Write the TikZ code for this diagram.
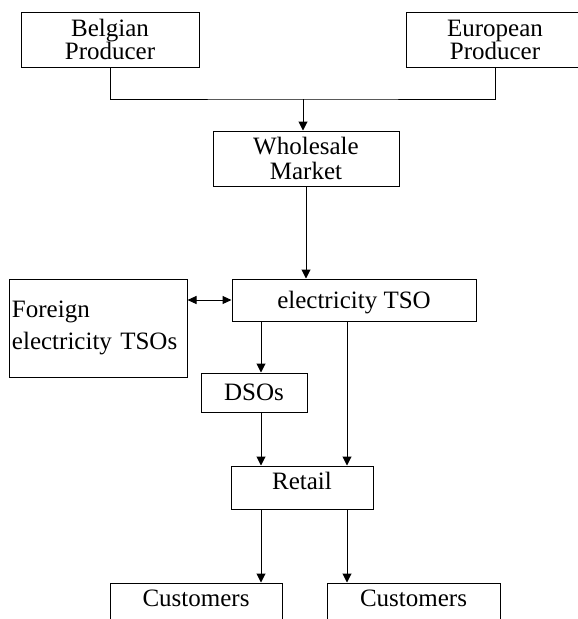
\documentclass[tikz,border=0pt]{standalone}
\usepackage{fontspec}
\setmainfont{Liberation Serif}
\usetikzlibrary{arrows.meta, positioning}

\begin{document}
\begin{tikzpicture}[
    x=1pt, y=-1pt,
    line width=1pt,
    box/.style={rectangle, draw, inner sep=0pt, align=center, font=\fontsize{25}{25}\selectfont},
    arr/.style={-{Triangle[length=9pt, width=9pt]}},
    twoarr/.style={{Triangle[length=9pt, width=8pt]}-{Triangle[length=9pt, width=8pt]}}
]
    \useasboundingbox (0,0) rectangle (578,619);

    % Producers and market
    \node[box, minimum width=178, minimum height=55, font=\fontsize{25}{23}\selectfont] (belg) at (110,39.5) {Belgian\\Producer};
    \node[box, minimum width=178, minimum height=55, font=\fontsize{25}{23}\selectfont] (euro) at (495,39.5) {European\\Producer};
    \node[box, minimum width=186, minimum height=55] (whole) at (306,158.5) {Wholesale\\Market};

    % Transmission
    \node[box, minimum width=244, minimum height=42, text depth=0pt] (tso) at (354,300) {electricity TSO};
    \node[box, minimum width=178, minimum height=98, align=left, text width=172pt, inner xsep=3pt,
          font=\fontsize{25}{32}\selectfont] (foreign) at (98,328) {Foreign\\electricity TSOs};

    % Distribution and retail
    \node[box, minimum width=106, minimum height=39] (dso) at (254,392.5) {DSOs};
    \node[box, minimum width=142, minimum height=43, text depth=14pt] (retail) at (302,487.5) {Retail};
    \node[box, minimum width=172, minimum height=38, text depth=7pt] (cust1) at (196,602) {Customers};
    \node[box, minimum width=173, minimum height=38, text depth=7pt] (cust2) at (413.5,602) {Customers};

    % Helper points for the vertical runs
    \coordinate (join) at (303,99);
    \coordinate (lcol) at (261,0);
    \coordinate (rcol) at (347,0);

    % Producers feed the wholesale market
    \draw (belg.south) |- (join) -| (euro.south);
    \draw[arr] (join) -- (join |- whole.north);
    \draw[arr] (whole.south) -- (whole.south |- tso.north);

    % TSO links
    \draw[twoarr] (tso.west -| foreign.east) -- (tso.west);
    \draw[arr] (tso.south -| lcol) -- (dso.north -| lcol);
    \draw[arr] (tso.south -| rcol) -- (retail.north -| rcol);
    \draw[arr] (dso.south -| lcol) -- (retail.north -| lcol);

    % Retail to customers
    \draw[arr] (retail.south -| lcol) -- (cust1.north -| lcol);
    \draw[arr] (retail.south -| rcol) -- (cust2.north -| rcol);

\end{tikzpicture}
\end{document}
